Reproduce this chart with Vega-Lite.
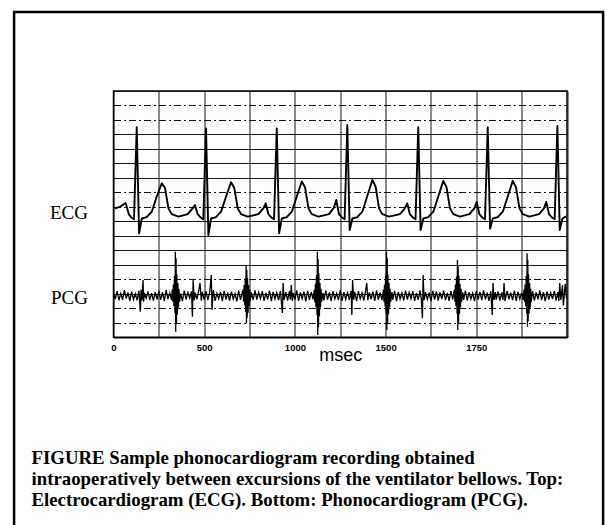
{
  "$schema": "https://vega.github.io/schema/vega-lite/v6.json",
  "width": 453.5,
  "height": 246.3,
  "autosize": {"type": "none"},
  "padding": {"left": 113.5, "top": 91, "right": 38, "bottom": 188},
  "background": "white",
  "config": {"view": {"stroke": "black", "strokeWidth": 1.5}},
  "title": {
    "text": ["FIGURE Sample phonocardiogram recording obtained", "intraoperatively between excursions of the ventilator bellows. Top:", "Electrocardiogram (ECG). Bottom: Phonocardiogram (PCG)."],
    "orient": "bottom", "anchor": "start", "frame": "group", "dx": -82, "offset": -82,
    "font": "Liberation Serif", "fontSize": 18.8, "fontWeight": "bold", "color": "black", "lineHeight": 20.8, "baseline": "top"
  },
  "datasets": {
    "frame": [{"t": -548, "t2": 2699, "v": 22.45, "v2": -13.3}],
    "ecg": [
      {"t":8,"v":8.9},{"t":36,"v":9.0},{"t":67,"v":9.27},{"t":85,"v":8.48},{"t":100,"v":8.25},{"t":113,"v":8.15},{"t":128,"v":14.5},{"t":141,"v":7.18},{"t":156,"v":8.2},{"t":183,"v":8.3},{"t":211,"v":8.67},{"t":238,"v":9.7},{"t":266,"v":10.63},{"t":284,"v":10.3},{"t":303,"v":8.9},{"t":321,"v":8.5},{"t":358,"v":8.33},
      {"t":409,"v":8.5},{"t":436,"v":8.9},{"t":449,"v":9.13},{"t":464,"v":8.5},{"t":482,"v":8.25},{"t":495,"v":8.15},{"t":510,"v":14.42},{"t":523,"v":7.06},{"t":538,"v":8.2},{"t":565,"v":8.3},{"t":593,"v":8.67},{"t":620,"v":9.7},{"t":648,"v":10.7},{"t":666,"v":10.3},{"t":685,"v":8.9},{"t":703,"v":8.5},{"t":740,"v":8.33},
      {"t":799,"v":8.5},{"t":826,"v":8.9},{"t":839,"v":9.25},{"t":854,"v":8.5},{"t":872,"v":8.25},{"t":885,"v":8.15},{"t":900,"v":14.42},{"t":913,"v":7.18},{"t":928,"v":8.2},{"t":955,"v":8.3},{"t":983,"v":8.67},{"t":1010,"v":9.7},{"t":1038,"v":10.75},{"t":1056,"v":10.35},{"t":1075,"v":8.9},{"t":1093,"v":8.5},{"t":1130,"v":8.33},
      {"t":1188,"v":8.5},{"t":1215,"v":8.95},{"t":1228,"v":9.48},{"t":1243,"v":8.5},{"t":1261,"v":8.25},{"t":1274,"v":8.15},{"t":1289,"v":14.65},{"t":1302,"v":7.4},{"t":1317,"v":8.2},{"t":1344,"v":8.3},{"t":1372,"v":8.67},{"t":1399,"v":9.75},{"t":1427,"v":10.86},{"t":1445,"v":10.4},{"t":1464,"v":8.9},{"t":1482,"v":8.5},{"t":1519,"v":8.33},
      {"t":1579,"v":8.5},{"t":1606,"v":8.9},{"t":1619,"v":9.25},{"t":1634,"v":8.5},{"t":1652,"v":8.25},{"t":1665,"v":8.15},{"t":1680,"v":14.5},{"t":1693,"v":7.4},{"t":1708,"v":8.2},{"t":1735,"v":8.3},{"t":1763,"v":8.67},{"t":1790,"v":9.7},{"t":1818,"v":10.8},{"t":1836,"v":10.35},{"t":1855,"v":8.9},{"t":1873,"v":8.5},{"t":1910,"v":8.33},
      {"t":1962,"v":8.5},{"t":1989,"v":8.9},{"t":2002,"v":9.35},{"t":2017,"v":8.5},{"t":2035,"v":8.25},{"t":2048,"v":8.15},{"t":2063,"v":14.5},{"t":2076,"v":7.5},{"t":2091,"v":8.2},{"t":2118,"v":8.3},{"t":2146,"v":8.67},{"t":2173,"v":9.7},{"t":2201,"v":10.8},{"t":2219,"v":10.35},{"t":2238,"v":8.9},{"t":2256,"v":8.5},{"t":2293,"v":8.33},
      {"t":2346,"v":8.5},{"t":2373,"v":8.9},{"t":2386,"v":9.35},{"t":2401,"v":8.5},{"t":2419,"v":8.25},{"t":2432,"v":8.15},{"t":2447,"v":14.58},{"t":2460,"v":7.4},{"t":2475,"v":8.2},{"t":2495,"v":8.35}
    ],
    "pcg": [
      {"t":0,"v":3.13},{"t":10,"v":2.63},{"t":20,"v":3.19},{"t":30,"v":2.55},{"t":40,"v":3.03},{"t":50,"v":2.59},{"t":60,"v":3.25},{"t":70,"v":2.67},{"t":80,"v":3.09},{"t":90,"v":2.51},{"t":100,"v":3.15},{"t":110,"v":2.61},{"t":120,"v":3.01},{"t":130,"v":2.55},{"t":140,"v":3.21},{"t":148,"v":1.77},{"t":152,"v":3.30},{"t":157,"v":2.55},{"t":163,"v":3.95},{"t":166,"v":2.45},{"t":170,"v":3.07},{"t":180,"v":2.69},{"t":190,"v":3.17},{"t":200,"v":2.57},{"t":210,"v":3.05},{"t":220,"v":2.53},{"t":230,"v":3.11},{"t":240,"v":2.60},{"t":250,"v":3.20},{"t":260,"v":2.58},{"t":270,"v":3.12},{"t":280,"v":2.50},{"t":290,"v":3.27},{"t":300,"v":2.64},{"t":310,"v":3.06},{"t":320,"v":2.56},
      {"t":324,"v":3.30},{"t":327,"v":2.45},{"t":330,"v":3.65},{"t":333,"v":2.15},{"t":336,"v":4.25},{"t":339,"v":1.65},{"t":341,"v":5.91},{"t":343,"v":0.39},{"t":345,"v":5.45},{"t":347,"v":0.90},{"t":349,"v":4.35},{"t":352,"v":1.55},{"t":355,"v":3.75},{"t":358,"v":2.05},{"t":361,"v":3.35},{"t":364,"v":2.45},
      {"t":370,"v":3.02},{"t":380,"v":2.49},{"t":390,"v":3.22},{"t":400,"v":2.60},{"t":410,"v":3.10},{"t":420,"v":2.70},{"t":430,"v":3.16},{"t":435,"v":1.42},{"t":439,"v":3.95},{"t":445,"v":2.54},{"t":450,"v":3.08},{"t":460,"v":2.62},{"t":470,"v":3.23},{"t":477,"v":3.75},{"t":484,"v":2.52},{"t":490,"v":3.14},{"t":500,"v":2.58},{"t":510,"v":3.18},{"t":520,"v":2.56},{"t":530,"v":3.10},{"t":539,"v":4.30},{"t":543,"v":1.88},{"t":550,"v":3.26},{"t":560,"v":2.52},{"t":570,"v":3.04},{"t":580,"v":2.66},{"t":590,"v":3.14},{"t":600,"v":2.50},{"t":610,"v":3.20},{"t":620,"v":2.60},{"t":630,"v":3.08},{"t":640,"v":2.54},{"t":650,"v":3.16},{"t":660,"v":2.64},{"t":670,"v":3.02},{"t":680,"v":2.48},{"t":690,"v":3.22},{"t":700,"v":2.58},{"t":710,"v":3.12},
      {"t":714,"v":3.28},{"t":717,"v":2.47},{"t":720,"v":3.60},{"t":723,"v":2.20},{"t":726,"v":4.05},{"t":729,"v":1.75},{"t":731,"v":4.99},{"t":733,"v":0.97},{"t":735,"v":4.65},{"t":737,"v":1.35},{"t":739,"v":4.10},{"t":742,"v":1.70},{"t":745,"v":3.60},{"t":748,"v":2.15},{"t":751,"v":3.30},{"t":754,"v":2.50},
      {"t":760,"v":3.10},{"t":770,"v":2.56},{"t":780,"v":3.24},{"t":790,"v":2.60},{"t":800,"v":3.10},{"t":810,"v":2.66},{"t":820,"v":3.18},{"t":830,"v":2.52},{"t":840,"v":3.06},{"t":850,"v":2.60},{"t":860,"v":3.22},{"t":870,"v":2.50},{"t":880,"v":3.14},{"t":890,"v":2.64},{"t":900,"v":3.08},{"t":910,"v":2.56},{"t":920,"v":3.20},{"t":931,"v":1.68},{"t":935,"v":3.75},{"t":940,"v":2.58},{"t":950,"v":3.12},{"t":960,"v":2.54},{"t":970,"v":3.18},{"t":975,"v":2.60},{"t":980,"v":3.60},{"t":986,"v":2.50},{"t":990,"v":3.06},{"t":1000,"v":2.60},{"t":1010,"v":3.24},{"t":1020,"v":2.52},{"t":1030,"v":3.10},{"t":1040,"v":2.66},{"t":1050,"v":3.16},{"t":1060,"v":2.48},{"t":1070,"v":3.20},{"t":1080,"v":2.58},{"t":1090,"v":3.12},{"t":1100,"v":2.62},
      {"t":1107,"v":3.30},{"t":1110,"v":2.40},{"t":1113,"v":3.70},{"t":1116,"v":2.10},{"t":1119,"v":4.30},{"t":1122,"v":1.55},{"t":1124,"v":5.91},{"t":1126,"v":0.16},{"t":1128,"v":5.40},{"t":1130,"v":0.70},{"t":1132,"v":4.40},{"t":1135,"v":1.45},{"t":1138,"v":3.75},{"t":1141,"v":2.05},{"t":1144,"v":3.35},{"t":1147,"v":2.45},
      {"t":1155,"v":3.06},{"t":1160,"v":2.54},{"t":1170,"v":3.22},{"t":1180,"v":2.60},{"t":1190,"v":3.10},{"t":1200,"v":2.50},{"t":1210,"v":3.18},{"t":1220,"v":2.64},{"t":1230,"v":3.04},{"t":1240,"v":2.56},{"t":1250,"v":3.26},{"t":1260,"v":2.52},{"t":1270,"v":3.12},{"t":1280,"v":2.62},{"t":1290,"v":3.08},{"t":1300,"v":2.58},{"t":1310,"v":3.20},{"t":1314,"v":1.54},{"t":1318,"v":3.95},{"t":1324,"v":2.60},{"t":1330,"v":3.14},{"t":1340,"v":2.50},{"t":1350,"v":3.18},{"t":1360,"v":2.66},{"t":1370,"v":3.06},{"t":1380,"v":2.54},{"t":1390,"v":3.22},{"t":1396,"v":3.75},{"t":1402,"v":2.56},{"t":1410,"v":3.10},{"t":1420,"v":2.62},{"t":1430,"v":3.16},{"t":1440,"v":2.52},{"t":1450,"v":3.24},{"t":1460,"v":2.60},{"t":1470,"v":3.08},{"t":1480,"v":2.56},
      {"t":1488,"v":3.30},{"t":1491,"v":2.45},{"t":1494,"v":3.65},{"t":1497,"v":2.15},{"t":1500,"v":4.25},{"t":1503,"v":1.65},{"t":1505,"v":5.91},{"t":1507,"v":0.50},{"t":1509,"v":5.45},{"t":1511,"v":0.95},{"t":1513,"v":4.35},{"t":1516,"v":1.60},{"t":1519,"v":3.75},{"t":1522,"v":2.05},{"t":1525,"v":3.35},{"t":1528,"v":2.45},
      {"t":1535,"v":3.12},{"t":1540,"v":2.58},{"t":1550,"v":3.20},{"t":1560,"v":2.50},{"t":1570,"v":3.14},{"t":1580,"v":2.64},{"t":1590,"v":3.06},{"t":1600,"v":2.54},{"t":1610,"v":3.22},{"t":1620,"v":2.60},{"t":1630,"v":3.10},{"t":1640,"v":2.66},{"t":1650,"v":3.18},{"t":1660,"v":2.52},{"t":1670,"v":3.04},{"t":1680,"v":2.58},{"t":1690,"v":3.24},{"t":1697,"v":2.62},{"t":1703,"v":1.31},{"t":1707,"v":4.30},{"t":1712,"v":2.56},{"t":1720,"v":3.12},{"t":1730,"v":2.62},{"t":1740,"v":3.08},{"t":1750,"v":2.50},{"t":1760,"v":3.20},{"t":1770,"v":2.60},{"t":1780,"v":3.16},{"t":1790,"v":2.54},{"t":1800,"v":3.10},{"t":1810,"v":2.64},{"t":1820,"v":3.22},{"t":1830,"v":2.56},{"t":1840,"v":3.06},{"t":1850,"v":2.52},{"t":1860,"v":3.18},{"t":1870,"v":2.62},
      {"t":1879,"v":3.28},{"t":1882,"v":2.45},{"t":1885,"v":3.65},{"t":1888,"v":2.15},{"t":1891,"v":4.20},{"t":1894,"v":1.65},{"t":1896,"v":5.33},{"t":1898,"v":0.50},{"t":1900,"v":4.95},{"t":1902,"v":0.95},{"t":1904,"v":4.25},{"t":1907,"v":1.60},{"t":1910,"v":3.70},{"t":1913,"v":2.05},{"t":1916,"v":3.35},{"t":1919,"v":2.45},
      {"t":1925,"v":3.10},{"t":1930,"v":2.58},{"t":1940,"v":3.22},{"t":1950,"v":2.54},{"t":1960,"v":3.12},{"t":1970,"v":2.64},{"t":1980,"v":3.06},{"t":1990,"v":2.50},{"t":2000,"v":3.20},{"t":2010,"v":2.60},{"t":2020,"v":3.14},{"t":2030,"v":2.56},{"t":2040,"v":3.24},{"t":2050,"v":2.62},{"t":2060,"v":3.08},{"t":2070,"v":2.52},{"t":2080,"v":3.18},{"t":2088,"v":1.54},{"t":2092,"v":3.75},{"t":2098,"v":2.58},{"t":2105,"v":3.12},{"t":2110,"v":2.60},{"t":2120,"v":3.16},{"t":2130,"v":2.54},{"t":2140,"v":3.10},{"t":2147,"v":2.58},{"t":2153,"v":3.75},{"t":2158,"v":2.50},{"t":2170,"v":3.20},{"t":2180,"v":2.62},{"t":2190,"v":3.08},{"t":2200,"v":2.56},{"t":2210,"v":3.22},{"t":2220,"v":2.52},{"t":2230,"v":3.14},{"t":2240,"v":2.64},{"t":2250,"v":3.06},{"t":2258,"v":2.58},
      {"t":2263,"v":3.30},{"t":2266,"v":2.45},{"t":2269,"v":3.65},{"t":2272,"v":2.15},{"t":2275,"v":4.25},{"t":2278,"v":1.65},{"t":2280,"v":5.80},{"t":2282,"v":0.73},{"t":2284,"v":5.35},{"t":2286,"v":1.10},{"t":2288,"v":4.35},{"t":2291,"v":1.65},{"t":2294,"v":3.75},{"t":2297,"v":2.05},{"t":2300,"v":3.35},{"t":2303,"v":2.45},
      {"t":2310,"v":3.18},{"t":2320,"v":2.54},{"t":2330,"v":3.10},{"t":2340,"v":2.62},{"t":2350,"v":3.24},{"t":2360,"v":2.56},{"t":2370,"v":3.12},{"t":2380,"v":2.50},{"t":2390,"v":3.16},{"t":2400,"v":2.60},{"t":2410,"v":3.08},{"t":2420,"v":2.64},{"t":2430,"v":3.20},{"t":2440,"v":2.54},{"t":2450,"v":3.12},{"t":2455,"v":2.50},{"t":2460,"v":3.75},{"t":2466,"v":2.58},{"t":2475,"v":3.60},{"t":2480,"v":2.20},{"t":2490,"v":3.70},{"t":2497,"v":2.70}
    ]
  },
  "encoding": {
    "x": {
      "field": "t", "type": "quantitative",
      "scale": {"domain": [0, 2500], "nice": false, "zero": false},
      "axis": {
        "values": [0, 250, 500, 750, 1000, 1250, 1500, 1750, 2000, 2250, 2500],
        "format": "d",
        "labelExpr": "datum.value == 2000 ? '1750' : ((datum.value % 500 == 0 && datum.value < 2500) ? datum.label : '')",
        "labelFont": "Liberation Sans", "labelFontSize": 9.5, "labelFontWeight": "bold", "labelColor": "black",
        "labelPadding": 5, "labelFlush": false, "labelOverlap": false,
        "ticks": false, "tickSize": 0,
        "domain": true, "domainColor": "black", "domainWidth": 1.5,
        "grid": true, "gridColor": "#111111", "gridWidth": 1,
        "title": "msec", "titleFont": "Liberation Sans", "titleFontSize": 18, "titleFontWeight": "normal", "titleColor": "black",
        "titleBaseline": "alphabetic", "titleY": 23
      }
    },
    "y": {
      "field": "v", "type": "quantitative",
      "scale": {"domain": [0, 17], "nice": false, "zero": false},
      "axis": {
        "values": [0, 1, 2, 2.76, 3, 4, 5, 6, 7, 8, 8.6, 9, 10, 11, 12, 13, 14, 15, 16, 17],
        "labelExpr": "datum.value == 8.6 ? 'ECG' : (datum.value == 2.76 ? 'PCG' : '')",
        "labelFont": "Liberation Serif", "labelFontSize": 19, "labelColor": "black", "labelPadding": 26, "labelOverlap": false, "labelBaseline": "middle",
        "ticks": false, "tickSize": 0, "domain": false,
        "grid": true, "gridColor": "#111111", "gridWidth": 1,
        "gridOpacity": {"condition": {"test": "datum.value == 8.6 || datum.value == 2.76", "value": 0}, "value": 1},
        "gridDash": {"condition": {"test": "indexof([1, 2, 4, 9, 10, 15, 16], datum.value) >= 0", "value": [7, 3, 2, 3]}, "value": []},
        "title": null
      }
    }
  },
  "layer": [
    {
      "data": {"name": "frame"},
      "mark": {"type": "rect", "filled": false, "color": "black", "strokeWidth": 2.5, "clip": false},
      "encoding": {"x2": {"field": "t2"}, "y2": {"field": "v2"}}
    },
    {
      "data": {"name": "ecg"},
      "mark": {"type": "line", "color": "black", "strokeWidth": 1.9, "strokeJoin": "round"}
    },
    {
      "data": {"name": "pcg"},
      "mark": {"type": "line", "color": "black", "strokeWidth": 1.3}
    }
  ]
}
